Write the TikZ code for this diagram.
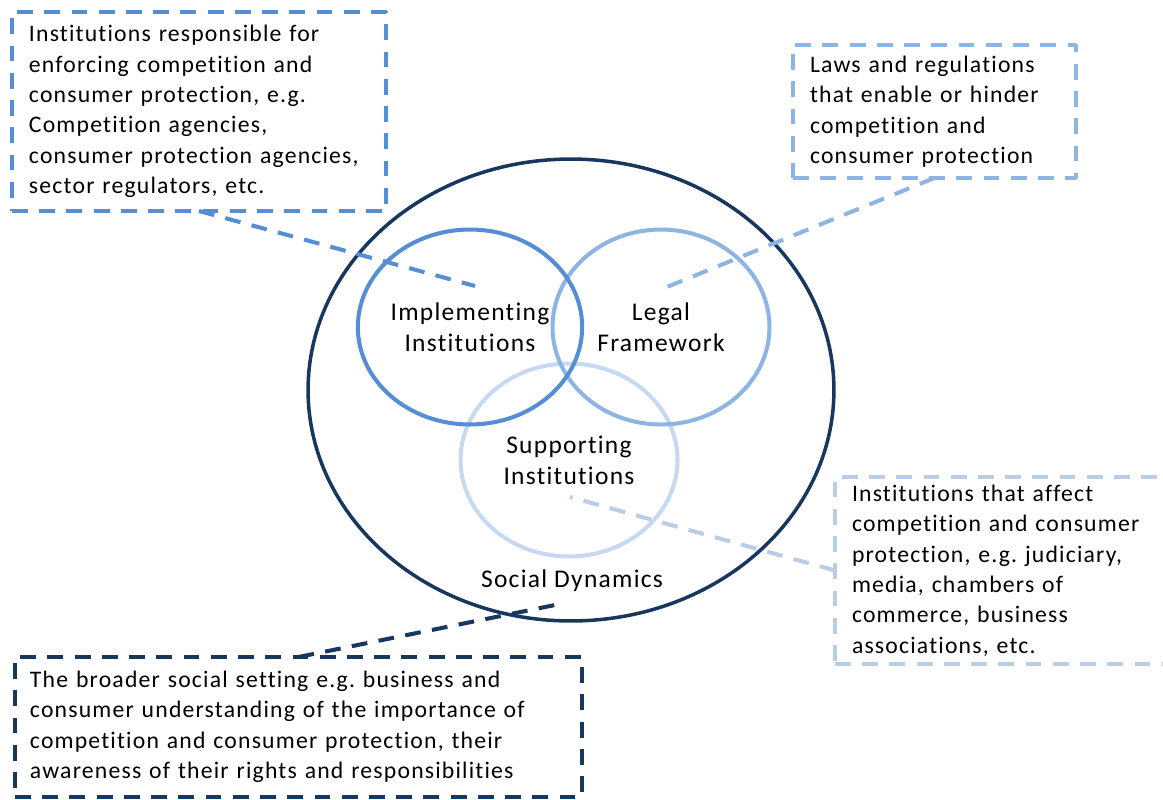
\documentclass[tikz,border=0pt]{standalone}
\usepackage{fontspec}
\setmainfont[LetterSpace=5, Ligatures=NoCommon]{Carlito}
\usetikzlibrary{shapes.geometric}
\definecolor{navyblue}{HTML}{17375E}
\definecolor{midblue}{HTML}{558ED5}
\definecolor{lightblue}{HTML}{8EB4E3}
\definecolor{paleblue}{HTML}{C6D9F1}
\definecolor{palebox}{HTML}{B9CDE5}
\frenchspacing
\begin{document}
\begin{tikzpicture}[x=0.02cm, y=-0.02cm, font=\fontsize{13.5}{17.3}\selectfont, line join=round,
	ring/.style={draw, ellipse, line width=2.3pt, inner sep=0pt, outer sep=0pt, align=center, font=\fontsize{14.5}{17.6}\selectfont},
	notebox/.style={draw, dash pattern=on 9pt off 6.5pt, line width=2pt, align=left, inner xsep=0.34cm, inner ysep=0pt, outer sep=0pt, anchor=north west},
	link/.style={dash pattern=on 9pt off 6.5pt, line width=2.3pt}]
	\useasboundingbox (0,0) rectangle (1163,799);
	% Venn part
	\node[ring, draw=navyblue, line width=2pt, minimum width=10.52cm, minimum height=9.24cm] (social) at (571,390) {};
	\node[ring, draw=paleblue, minimum width=4.34cm, minimum height=3.86cm] (supp) at (569,460) {Supporting\\Institutions};
	\node[ring, draw=lightblue, minimum width=4.34cm, minimum height=3.9cm] (legal) at (661,327) {Legal\\Framework};
	\node[ring, draw=midblue, minimum width=4.36cm, minimum height=3.9cm] (impl) at (470,327) {Implementing\\Institutions};
	\node[font=\fontsize{14.5}{17.6}\selectfont] (sdlabel) at (572,581) {Social Dynamics};
	% notes
	\node[notebox, draw=midblue, text width=6.8cm, minimum height=3.98cm] (implnote) at (12,12)
		{Institutions responsible for\\enforcing competition and\\consumer protection, e.g.\\Competition agencies,\\consumer protection agencies,\\sector regulators, etc.};
	\node[notebox, draw=lightblue, text width=4.98cm, minimum height=2.66cm] (legalnote) at (793,45)
		{Laws and regulations\\that enable or hinder\\competition and\\consumer protection};
	\node[notebox, draw=palebox, text width=6.12cm, minimum height=3.74cm] (suppnote) at (835,477)
		{Institutions that affect\\competition and consumer\\protection, e.g. judiciary,\\media, chambers of\\commerce, business\\associations, etc.};
	\node[notebox, draw=navyblue, inner xsep=0.3cm, text width=10.74cm, minimum height=2.8cm] (socialnote) at (15,657)
		{The broader social setting e.g. business and\\consumer understanding of the importance of\\competition and consumer protection, their\\awareness of their rights and responsibilities};
	% links
	\coordinate (implend) at (475,286);
	\coordinate (legalend) at (662,289);
	\coordinate (suppend) at (570,497);
	\coordinate (socialend) at (555,605);
	\draw[link, midblue] (implnote.south)--(implend);
	\draw[link, lightblue] (legalnote.south)--(legalend);
	\draw[link, palebox] (suppnote.west)--(suppend);
	\draw[link, navyblue] (socialnote.north)--(socialend);
\end{tikzpicture}
\end{document}
